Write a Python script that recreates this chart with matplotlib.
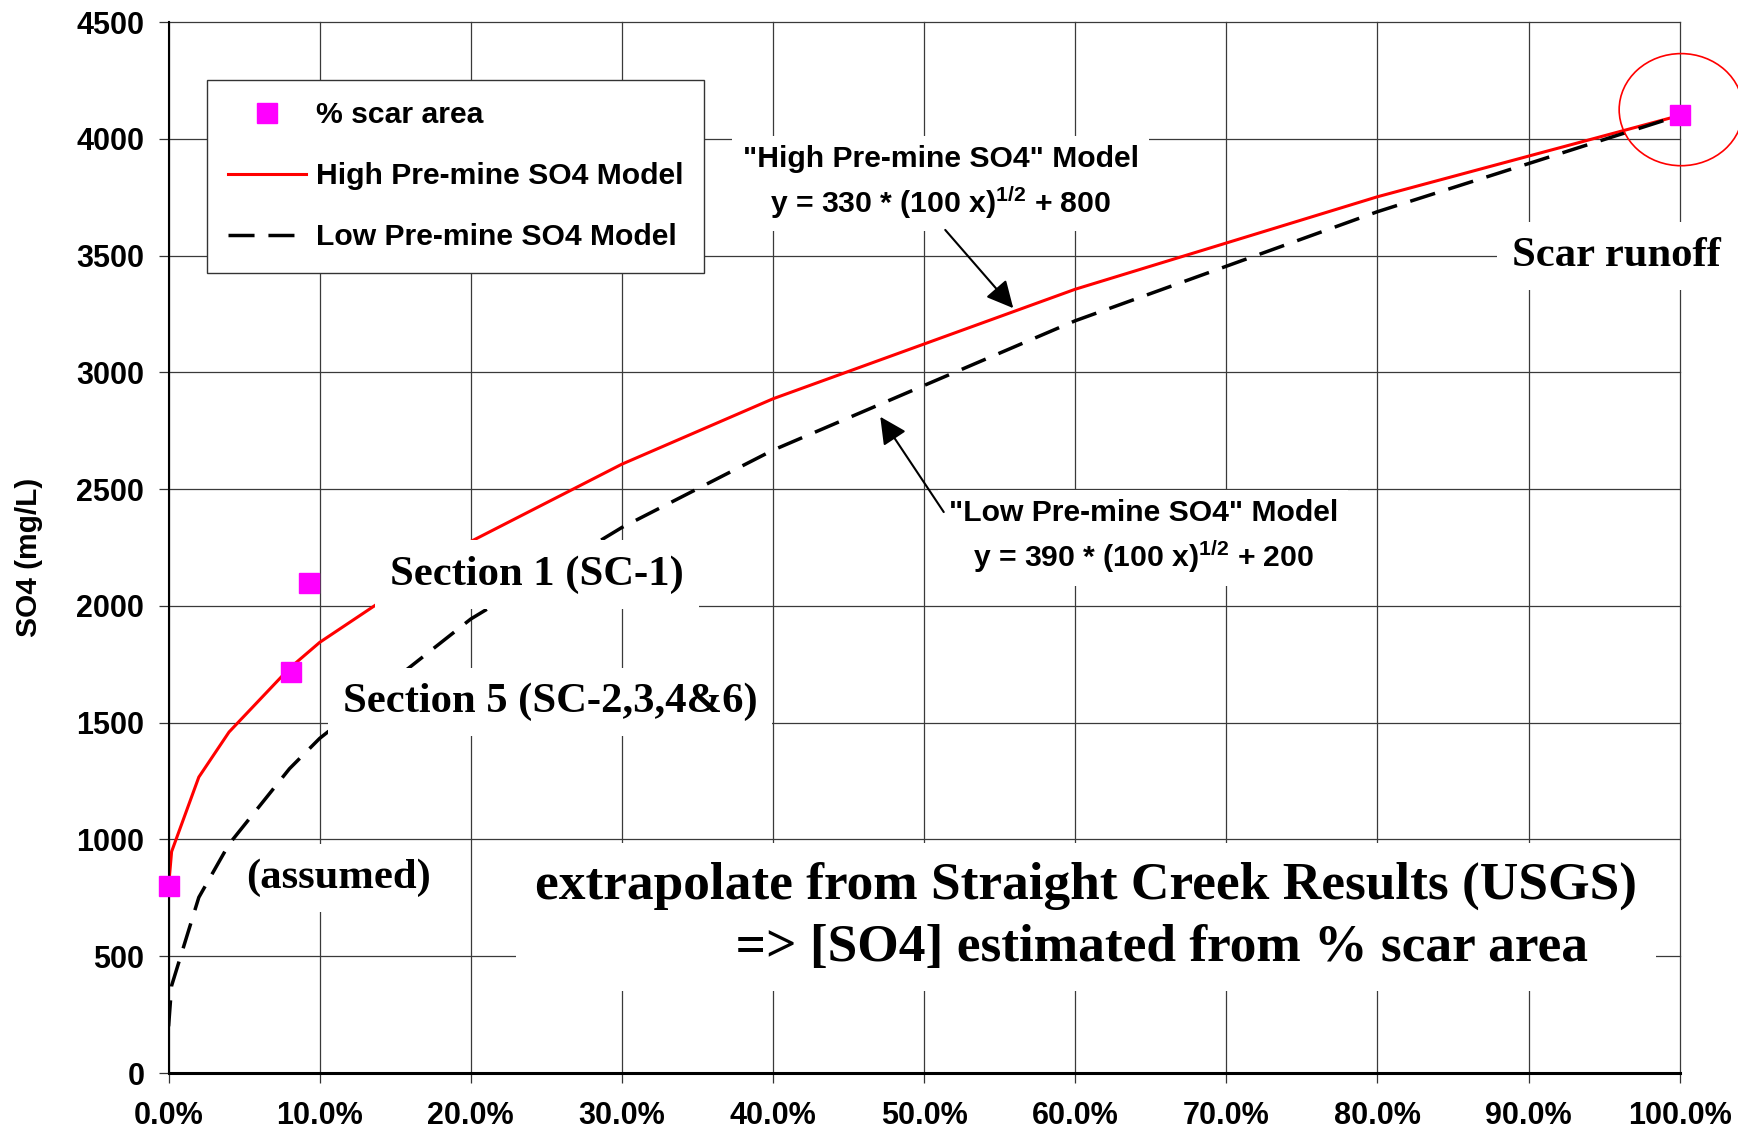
import matplotlib
matplotlib.use('Agg')
import matplotlib.pyplot as plt
from matplotlib.patches import Ellipse

plt.rcParams['font.family'] = 'Liberation Sans'
plt.rcParams['font.weight'] = 'bold'
plt.rcParams['mathtext.fontset'] = 'custom'
plt.rcParams['mathtext.rm'] = 'Liberation Sans:bold'
plt.rcParams['mathtext.it'] = 'Liberation Sans:bold'
plt.rcParams['mathtext.bf'] = 'Liberation Sans:bold'
plt.rcParams['mathtext.default'] = 'rm'

# % scar area observations
pct_scar = [0, 8.1, 9.3, 100]
so4_scar = [800, 1715, 2100, 4100]

# model curves (x in % scar area)
model_x = [0, 0.2, 2, 4, 8, 10, 20, 30, 40, 60, 80, 100]
high_y = [800, 948, 1267, 1460, 1733, 1844, 2276, 2607, 2887, 3356, 3752, 4100]
low_y = [200, 374, 752, 980, 1303, 1433, 1944, 2336, 2667, 3221, 3688, 4100]

xticks = list(range(0, 101, 10))
yticks = list(range(0, 4501, 500))

fig = plt.figure(figsize=(17.38, 11.32), dpi=100)
ax = fig.add_axes([0.0970, 0.0521, 0.8694, 0.9284])

ax.plot(model_x, high_y, color='red', lw=2.2, label='High Pre-mine SO4 Model', zorder=2)
ax.plot(model_x, low_y, color='black', lw=2.5, dashes=(7.5, 4), label='Low Pre-mine SO4 Model', zorder=2)
ax.plot(pct_scar, so4_scar, 's', color='magenta', ms=14, mec='magenta', ls='none',
        label='% scar area', zorder=4, clip_on=False)

ax.set_xlim(0, 100)
ax.set_ylim(0, 4500)
ax.set_xticks(xticks)
ax.set_xticklabels([f'{v:.1f}%' for v in xticks])
ax.set_yticks(yticks)
ax.tick_params(axis='both', direction='out', length=7.5, width=0.9, color='#333333',
               labelsize=22)
ax.tick_params(axis='x', pad=13)
ax.tick_params(axis='y', pad=10)

ax.grid(True, color='#3a3a3a', lw=0.9)
ax.set_axisbelow(True)
for gl in ax.get_xgridlines() + ax.get_ygridlines():
    gl.set_clip_on(False)
ax.spines['top'].set_visible(False)
ax.spines['right'].set_visible(False)
ax.spines['left'].set_linewidth(1.5)
ax.spines['bottom'].set_linewidth(2.2)

ax.set_ylabel('SO4 (mg/L)', fontsize=21.5, fontweight='bold', va='center')
ax.yaxis.set_label_coords(-0.0925, 0.4905)

handles, labels = ax.get_legend_handles_labels()
order = [2, 0, 1]
leg = ax.legend([handles[i] for i in order], [labels[i] for i in order],
                loc='upper left', bbox_to_anchor=(207 / 1738, 1 - 80 / 1132),
                bbox_transform=fig.transFigure, borderaxespad=0, fancybox=False,
                framealpha=1, edgecolor='#333333', fontsize=21.7, handlelength=2.6,
                handletextpad=0.3, labelspacing=1.1, borderpad=0.7, numpoints=1)
leg.get_frame().set_linewidth(1.0)
leg.set_zorder(6)

box = dict(boxstyle='square,pad=0.35', fc='white', ec='none')
serif = dict(family='Liberation Serif', weight='bold')

ax.text(24.4, 2135, 'Section 1 (SC-1)', fontsize=30.7, ha='center', va='center',
        bbox=box, zorder=3, **serif)
ax.text(25.25, 1590, 'Section 5 (SC-2,3,4&6)', fontsize=30.7, ha='center', va='center',
        bbox=box, zorder=3, **serif)
ax.text(11.25, 834, '(assumed)', fontsize=30.7, ha='center', va='center',
        bbox=box, zorder=3, **serif)
ax.text(95.8, 3500, 'Scar runoff', fontsize=30.7, ha='center', va='center',
        bbox=box, zorder=3, **serif)
ax.text(24.26, 668, 'extrapolate from Straight Creek Results (USGS)\n'
        + ' ' * 15 + '=> [SO4] estimated from % scar area',
        fontsize=38.4, ha='left', va='center', linespacing=1.38,
        bbox=box, zorder=3, **serif)

ax.text(51.1, 3812, '"High Pre-mine SO4" Model\ny = 330 * (100 x)$^{1/2}$ + 800',
        fontsize=21.7, ha='center', va='center', multialignment='center',
        linespacing=1.4, bbox=box, zorder=3)
ax.text(64.5, 2295, '"Low Pre-mine SO4" Model\ny = 390 * (100 x)$^{1/2}$ + 200',
        fontsize=21.7, ha='center', va='center', multialignment='center',
        linespacing=1.4, bbox=box, zorder=3)

arrow = dict(arrowstyle='-|>', mutation_scale=41, lw=1.5, color='black',
             shrinkA=0, shrinkB=0)
ax.annotate('', xy=(55.9, 3275), xytext=(51.4, 3610), arrowprops=arrow, zorder=5)
ax.annotate('', xy=(47.1, 2810), xytext=(51.3, 2402), arrowprops=arrow, zorder=5)

ax.add_patch(Ellipse((100.1, 4125), 8.2, 480, fill=False, ec='red', lw=1.2,
                     clip_on=False, zorder=5))

fig.savefig('out.png', dpi=100)
